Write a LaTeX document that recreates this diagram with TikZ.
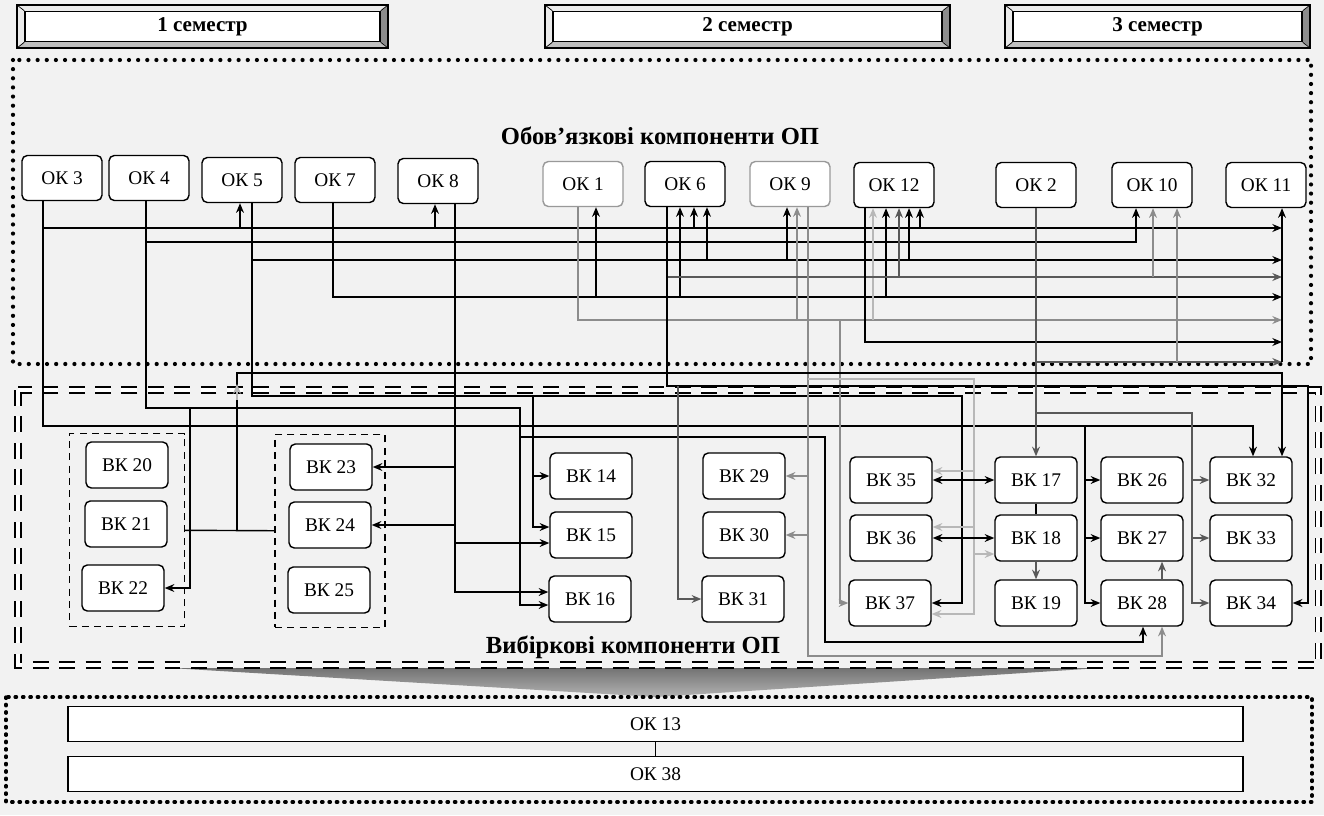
\documentclass[tikz,border=0pt]{standalone}
\usepackage{fontspec}
\setmainfont{Liberation Serif}
\usetikzlibrary{arrows.meta,calc}

\colorlet{dgray}{black!65}
\colorlet{mgray}{black!45}
\colorlet{lgray}{black!28}

\tikzset{
 okbox/.style={draw, rounded corners=3pt, fill=white, line width=0.8pt, minimum width=1.6cm, minimum height=0.9cm, font=\fontsize{11}{13}\selectfont},
 okfaint/.style={okbox, draw=black!40},
 vkbox/.style={okbox, minimum width=1.64cm, minimum height=0.92cm},
 grpbox/.style={draw, line width=0.8pt, dash pattern=on 4pt off 3pt, minimum width=2.3cm, minimum height=3.86cm},
 link/.style={line width=0.8pt},
 arr/.style={link, -{Stealth[length=5.5pt,width=4.5pt]}},
 dblarr/.style={link, {Stealth[length=5.5pt,width=4.5pt]}-{Stealth[length=5.5pt,width=4.5pt]}},
 dotframe/.style={line width=2.4pt, line cap=round, dash pattern=on 0pt off 5.2pt},
 dashframe/.style={double, double distance=2.4pt, line width=0.8pt, dash pattern=on 9pt off 6pt},
 heading/.style={font=\bfseries\fontsize{14}{16}\selectfont},
 semlabel/.style={draw, fill=white, line width=0.8pt, minimum height=0.56cm, font=\bfseries\fontsize{12}{14}\selectfont},
 barbox/.style={draw, line width=1pt, fill=white, minimum width=23.5cm, minimum height=0.7cm, font=\fontsize{11}{13}\selectfont}
}

\begin{document}
\begin{tikzpicture}[x=0.02cm,y=-0.02cm]
\useasboundingbox (0,0) rectangle (1324,815);
\fill[black!5] (0,0) rectangle (1324,815);

\foreach \xa/\xb/\lbl [count=\i] in {17/388/1 семестр, 545/950/2 семестр, 1005/1310/3 семестр}{
 \fill[black!8] (\xa,5) rectangle (\xb,48);
 \fill[black!45] (\xb,5) -- (\xb-8,12) -- (\xb-8,41) -- (\xb,48) -- cycle;
 \fill[black!25] (\xa,48) -- (\xa+8,41) -- (\xb-8,41) -- (\xb,48) -- cycle;
 \draw[line width=0.8pt] (\xa,5) rectangle (\xb,48);
 \node[semlabel, minimum width={(\xb-\xa-16)*0.02cm}] (sem\i) at ({(\xa+\xb)/2},26.5) {\lbl};
 \draw (\xa,5) -- (sem\i.north west) (\xb,5) -- (sem\i.north east)
       (\xa,48) -- (sem\i.south west) (\xb,48) -- (sem\i.south east);
}

\shade[top color=black!55, bottom color=black!30] (170,668) -- (1100,668) -- (656,697) -- cycle;
\draw[dotframe] (13,60) rectangle (1311,364);
\draw[dotframe, line width=1.9pt, dash pattern=on 0.8pt off 3.4pt] (6,697) rectangle (1312,802);
\draw[dashframe] (18,390) rectangle (1318,665);

\node[heading] (must) at (660,136) {Обов’язкові компоненти ОП};
\node[heading] (elect) at (633,647) {Вибіркові компоненти ОП};

\node[okbox] (ok3) at (62,178) {ОК 3};
\node[okbox] (ok4) at (149,178) {ОК 4};
\node[okbox] (ok5) at (242,180) {ОК 5};
\node[okbox] (ok7) at (335,180) {ОК 7};
\node[okbox] (ok8) at (438,181) {ОК 8};
\node[okfaint] (ok1) at (583,184) {ОК 1};
\node[okbox] (ok6) at (685,184) {ОК 6};
\node[okfaint] (ok9) at (790,184) {ОК 9};
\node[okbox] (ok12) at (894,185) {ОК 12};
\node[okbox] (ok2) at (1036,185) {ОК 2};
\node[okbox] (ok10) at (1152,185) {ОК 10};
\node[okbox] (ok11) at (1266,185) {ОК 11};

\node[grpbox] (grp1) at (127,530) {};
\node[grpbox, minimum width=2.2cm] (grp2) at (330,531) {};

\node[vkbox] (bk20) at (127,465) {ВК 20};
\node[vkbox] (bk21) at (126,524) {ВК 21};
\node[vkbox] (bk22) at (123,588) {ВК 22};
\node[vkbox] (bk23) at (331,467) {ВК 23};
\node[vkbox] (bk24) at (330,525) {ВК 24};
\node[vkbox] (bk25) at (329,590) {ВК 25};
\node[vkbox] (bk14) at (591,476) {ВК 14};
\node[vkbox] (bk15) at (591,535) {ВК 15};
\node[vkbox] (bk16) at (590,599) {ВК 16};
\node[vkbox] (bk29) at (744,476) {ВК 29};
\node[vkbox] (bk30) at (744,535) {ВК 30};
\node[vkbox] (bk31) at (743,599) {ВК 31};
\node[vkbox] (bk35) at (891,480) {ВК 35};
\node[vkbox] (bk36) at (891,538) {ВК 36};
\node[vkbox] (bk37) at (890,603) {ВК 37};
\node[vkbox] (bk17) at (1036,480) {ВК 17};
\node[vkbox] (bk18) at (1036,538) {ВК 18};
\node[vkbox] (bk19) at (1036,603) {ВК 19};
\node[vkbox] (bk26) at (1142,480) {ВК 26};
\node[vkbox] (bk27) at (1142,538) {ВК 27};
\node[vkbox] (bk28) at (1142,603) {ВК 28};
\node[vkbox] (bk32) at (1251,480) {ВК 32};
\node[vkbox] (bk33) at (1251,538) {ВК 33};
\node[vkbox] (bk34) at (1251,603) {ВК 34};

\node[barbox] (ok13) at (655.5,724) {ОК 13};
\node[barbox] (ok38) at (655.5,774) {ОК 38};
\draw[link] (ok13) -- (ok38);

\draw[arr] (ok3.south -| 43,0) |- (1282,228);
\draw[arr] (240,228) -- (ok5.south -| 240,0);
\draw[arr] (435,228) -- (ok8.south -| 435,0);
\draw[arr] (694,228) -- (ok6.south -| 694,0);
\draw[arr] (920,228) -- (ok12.south -| 920,0);
\draw[arr] (43,228) |- (1253,426) -- (bk32.north -| 1253,0);
\foreach \v in {bk26,bk27,bk28} \draw[arr] (1085,426) |- (\v);

\draw[arr] (ok4.south -| 146,0) |- (1136,242) -- (ok10.south -| 1136,0);
\draw[arr] (146,242) |- (520,408) |- ($(bk16.west)+(0,6)$);
\draw[arr] (190,408) |- (bk22);
\draw[arr] (520,437) -| (825,642) -| (bk28.south -| 1143,0);

\draw[arr] (ok5.south -| 252,0) |- (1282,260);
\draw[arr] (707,260) -- (ok6.south -| 707,0);
\draw[arr] (787,260) -- (ok9.south -| 787,0);
\draw[arr] (909,260) -- (ok12.south -| 909,0);
\draw[arr] (252,260) |- (962,396) |- (bk37);
\draw[arr] (533,396) |- (bk14);
\draw[arr] (533,396) |- ($(bk15.west)+(0,-8)$);

\draw[arr] (ok7.south -| 333,0) |- (1282,297);
\draw[arr] (596,297) -- (ok1.south -| 596,0);
\draw[arr] (680,297) -- (ok6.south -| 680,0);
\draw[arr] (886,297) -- (ok12.south -| 886,0);

\draw[arr] (ok8.south -| 455,0) |- ($(bk16.west)+(0,-7)$);
\draw[arr] (455,467) -- (bk23);
\draw[arr] (455,525) -- (bk24);
\draw[arr] (455,543) -- ($(bk15.west)+(0,8)$);

\draw[arr, mgray] (ok1.south -| 578,0) |- (1282,320);
\draw[arr, mgray] (797,320) -- (ok9.south -| 797,0);
\draw[arr, lgray] (873,320) -- (ok12.south -| 873,0);
\draw[arr, mgray] (840,320) |- (bk37);

\draw[arr, dgray] (667,277) -- (1282,277);
\draw[arr, dgray] (899,277) -- (ok12.south -| 899,0);
\draw[arr, mgray] (1153,277) -- (ok10.south -| 1153,0);
\draw[arr] (ok6.south -| 667,0) |- (1308,386) |- (bk34);
\draw[arr, dgray] (678,386) |- (bk31);

\draw[arr, mgray] (ok9.south -| 808,0) |- (1162,656) -- (bk28.south -| 1162,0);
\draw[arr, mgray] (808,476) -- (bk29);
\draw[arr, mgray] (808,535) -- (bk30);
\draw[arr, lgray] (808,379) -| (974,614) -- ($(bk37.east)+(0,11)$);
\draw[arr, lgray] (974,471) -- ($(bk35.east)+(0,-9)$);
\draw[arr, lgray] (974,527) -- ($(bk36.east)+(0,-11)$);
\draw[arr, lgray] (974,554) -- ($(bk18.west)+(0,16)$);

\draw[arr] (ok12.south -| 865,0) |- (1282,342);

\draw[arr, dgray] (ok2) -- (bk17);
\draw[arr, dgray] (1036,362) -- (1282,362);
\draw[arr, mgray] (1177,362) -- (ok10.south -| 1177,0);
\draw[arr, dgray] (1036,413) -| (1192,603) -- (bk34);
\draw[arr, dgray] (1192,480) -- (bk32);
\draw[arr, dgray] (1192,538) -- (bk33);
\draw[arr] (1282,362) -- (ok11.south -| 1282,0);

\draw[link] (grp1) -- (grp2);
\draw[arr] (237,530) |- (1282,373) -- (bk32.north -| 1282,0);
\draw[arr, lgray] (237,400) -- (237,384);

\draw[dblarr] (bk35) -- (bk17);
\draw[dblarr] (bk36) -- (bk18);
\draw[link] (bk17) -- (bk18);
\draw[arr, dgray] (bk18) -- (bk19);
\draw[arr, dgray] (bk28.north -| 1162,0) -- (bk27.south -| 1162,0);
\end{tikzpicture}
\end{document}
